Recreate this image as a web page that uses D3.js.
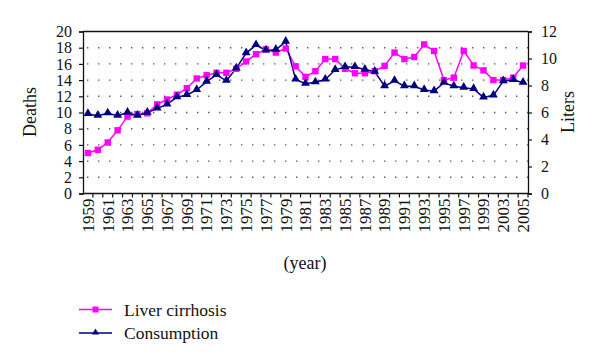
<!DOCTYPE html>
<html><head><meta charset="utf-8">
<script src="https://cdn.jsdelivr.net/npm/d3@7"></script>
<style>body{margin:0;background:#fff}svg{display:block}text{font-family:"Liberation Serif","Times New Roman",serif;fill:#111}</style>
</head><body><svg id="c" width="600" height="364"></svg>
<script>
const categories = ["1959","1960","1961","1962","1963","1964","1965","1966","1967","1968","1969","1970","1971","1972","1973","1974","1975","1976","1977","1978","1979","1980","1981","1982","1983","1984","1985","1986","1987","1988","1989","1990","1991","1992","1993","1994","1995","1996","1997","1998","1999","2002","2003","2004","2005"];
const deaths = [5.0,5.4,6.3,7.8,9.5,9.8,9.9,11.0,11.6,12.2,13.0,14.2,14.6,14.9,14.9,15.4,16.3,17.2,17.8,17.4,17.9,15.7,14.4,15.1,16.6,16.6,15.4,14.85,14.85,15.1,15.75,17.4,16.6,16.85,18.4,17.6,14.0,14.3,17.6,15.8,15.2,14.0,14.0,14.3,15.8];
const liters = [5.89,5.76,5.94,5.76,5.99,5.76,5.99,6.3,6.6,7.13,7.3,7.67,8.29,8.78,8.35,9.27,10.4,11.0,10.6,10.65,11.25,8.44,8.13,8.24,8.44,9.16,9.37,9.37,9.18,9.03,7.95,8.35,7.95,7.95,7.67,7.58,8.2,7.94,7.84,7.75,7.12,7.27,8.32,8.42,8.21];
const leftTicks = [0,2,4,6,8,10,12,14,16,18,20];
const rightTicks = [0,2,4,6,8,10,12];
const seriesNames = ["Liver cirrhosis","Consumption"];
const colors = ["#ff00ff","#000080"];

const svg = d3.select("#c");
const L = 83, R = 528, T = 31.5, B = 193.5;
const x = d3.scaleBand().domain(categories).range([L, R]).padding(0);
const cx = d => x(d) + x.bandwidth()/2;
const yL = d3.scaleLinear().domain([0,20]).range([B,T]);
const yR = d3.scaleLinear().domain([0,12]).range([B,T]);

// grid
svg.append("g").selectAll("line").data(leftTicks.filter(v=>v>0&&v<20)).join("line")
  .attr("x1",L+4).attr("x2",R).attr("y1",d=>yL(d)).attr("y2",d=>yL(d))
  .attr("stroke","#555").attr("stroke-width",1.4).attr("stroke-dasharray","1.4,9.6");
svg.append("line").attr("x1",L).attr("x2",R).attr("y1",T).attr("y2",T).attr("stroke","#111").attr("stroke-width",1.3);

// axes
const ga = svg.append("g").attr("transform",`translate(${L},0)`)
  .call(d3.axisLeft(yL).tickValues(leftTicks).tickSize(4).tickPadding(7));
const gr = svg.append("g").attr("transform",`translate(${R},0)`)
  .call(d3.axisRight(yR).tickValues(rightTicks).tickSize(4).tickPadding(9));
[ga,gr].forEach(g=>{
  g.select(".domain").attr("stroke","#111").attr("stroke-width",1.3);
  g.selectAll(".tick line").attr("stroke","#111").attr("stroke-width",1.2);
  g.selectAll(".tick text").attr("font-size",16).attr("font-family","Liberation Serif").attr("fill","#111");
});
// bottom axis
svg.append("line").attr("x1",L).attr("x2",R).attr("y1",B).attr("y2",B).attr("stroke","#111").attr("stroke-width",1.3);
svg.append("g").selectAll("line").data(categories.slice(1)).join("line")
  .attr("x1",d=>x(d)).attr("x2",d=>x(d)).attr("y1",B).attr("y2",B+4)
  .attr("stroke","#111").attr("stroke-width",1.2);
svg.append("line").attr("x1",R).attr("x2",R).attr("y1",B).attr("y2",B+4).attr("stroke","#111").attr("stroke-width",1.2);
svg.append("g").selectAll("text").data(categories.filter((d,i)=>i%2===0)).join("text")
  .attr("transform",d=>`translate(${cx(d)},${B+5}) rotate(-90)`)
  .attr("text-anchor","end").attr("dy","0.34em").attr("font-size",17).text(d=>d);

// titles
svg.append("text").attr("transform",`translate(36,112) rotate(-90)`).attr("text-anchor","middle").attr("font-size",18).text("Deaths");
svg.append("text").attr("transform",`translate(574,112) rotate(-90)`).attr("text-anchor","middle").attr("font-size",18).text("Liters");
svg.append("text").attr("x",305).attr("y",269).attr("text-anchor","middle").attr("font-size",18).text("(year)");

// lines
const line1 = d3.line().x((d,i)=>cx(categories[i])).y(d=>yL(d));
const line2 = d3.line().x((d,i)=>cx(categories[i])).y(d=>yR(d));
svg.append("path").attr("d",line1(deaths)).attr("fill","none").attr("stroke",colors[0]).attr("stroke-width",1.5);
svg.append("path").attr("d",line2(liters)).attr("fill","none").attr("stroke",colors[1]).attr("stroke-width",1.5);
svg.append("g").selectAll("rect").data(deaths).join("rect")
  .attr("x",(d,i)=>cx(categories[i])-3.2).attr("y",d=>yL(d)-3.2).attr("width",6.4).attr("height",6.4).attr("fill",colors[0]);
const tri = d3.symbol().type(d3.symbolTriangle).size(34);
svg.append("g").selectAll("path").data(liters).join("path")
  .attr("transform",(d,i)=>`translate(${cx(categories[i])},${yR(d)-0.5})`).attr("d",tri).attr("fill",colors[1]);

// legend
const lg = svg.append("g");
[309.5,333].forEach((yy,k)=>{
  lg.append("line").attr("x1",79).attr("x2",112).attr("y1",yy).attr("y2",yy).attr("stroke",colors[k]).attr("stroke-width",1.5);
  if(k===0) lg.append("rect").attr("x",95.5-3).attr("y",yy-3).attr("width",6).attr("height",6).attr("fill",colors[0]);
  else lg.append("path").attr("transform",`translate(95.5,${yy-0.5})`).attr("d",d3.symbol().type(d3.symbolTriangle).size(22)).attr("fill",colors[1]);
  lg.append("text").attr("x",124).attr("y",yy+6).attr("font-size",17.5).text(seriesNames[k]);
});
</script></body></html>
